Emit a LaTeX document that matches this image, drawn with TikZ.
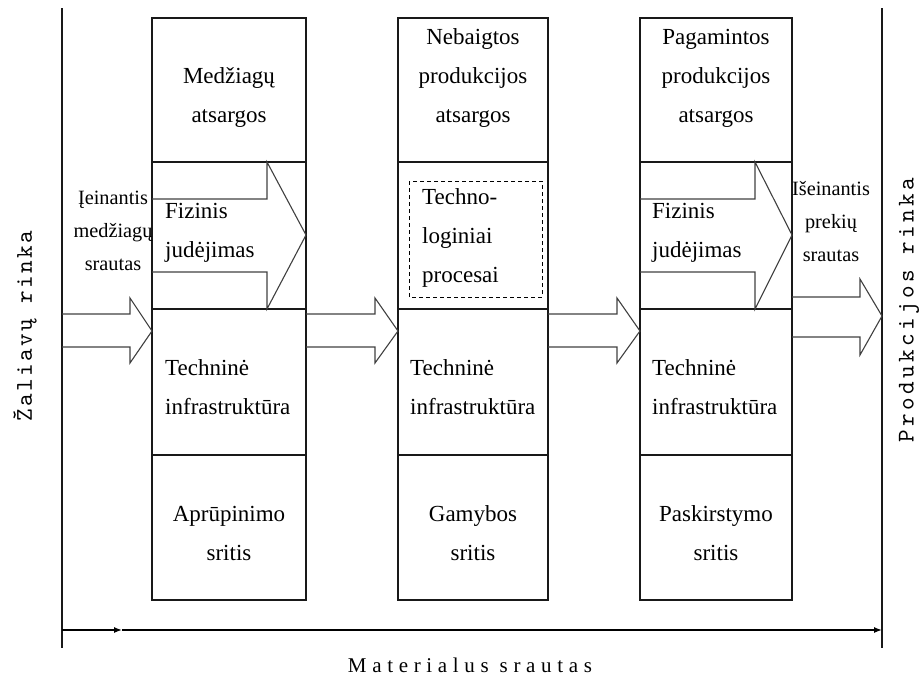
\documentclass[tikz,border=0pt]{standalone}
\usepackage{fontspec}
\setmainfont{Liberation Serif}
\newfontfamily\marketfont{lmmono10-regular}[Extension=.otf]
\usetikzlibrary{arrows.meta}
\begin{document}
\begin{tikzpicture}[x=1pt,y=-1pt,
  frame/.style={line width=1.5pt,black!90},
  blockarrow/.style={line width=1.1pt,black!75,line join=miter},
  lbl/.style={font=\fontsize{23}{39}\selectfont,align=center,inner sep=0pt},
  lbll/.style={font=\fontsize{23}{39}\selectfont,align=left,inner sep=0pt,anchor=west},
  small/.style={font=\fontsize{20.3}{33}\selectfont,align=center,inner sep=0pt},
  market/.style={inner sep=0pt,rotate=90},
  spaced/.style={font=\fontsize{21}{21}\selectfont\addfontfeatures{LetterSpace=27},inner sep=0pt}]
\useasboundingbox (0,0) rectangle (921,678);

% market boundaries
\coordinate (lt) at (62,8);   \coordinate (lb) at (62,648);
\coordinate (rt) at (882,8);  \coordinate (rb) at (882,648);
\draw[frame] (lt) -- (lb);
\draw[frame] (rt) -- (rb);

% the three areas, each split into four rows
\foreach \xl/\xr in {152/306, 398/548, 640/792} {
  \draw[frame] (\xl,18) rectangle (\xr,600);
  \draw[frame] (\xl,162) -- (\xr,162);
  \draw[frame] (\xl,309) -- (\xr,309);
  \draw[frame] (\xl,455) -- (\xr,455);
}

% physical movement arrows inside the supply and distribution areas
\draw[blockarrow] (152,199) -- (267,199) -- (267,162) -- (306,235) -- (267,309) -- (267,272) -- (152,272);
\draw[blockarrow] (640,199) -- (755,199) -- (755,162) -- (792,235) -- (755,309) -- (755,272) -- (640,272);

% flow arrows between the areas
\draw[blockarrow] (62,314) -- (130,314) -- (130,298) -- (152,331) -- (130,363) -- (130,347) -- (62,347);
\draw[blockarrow] (306,314) -- (375,314) -- (375,298) -- (398,331) -- (375,363) -- (375,347) -- (306,347);
\draw[blockarrow] (548,314) -- (617,314) -- (617,298) -- (640,331) -- (617,363) -- (617,347) -- (548,347);
\draw[blockarrow] (792,297) -- (860,297) -- (860,279) -- (882,316) -- (860,355) -- (860,337) -- (792,337);

% technological processes
\draw[line width=1pt,dashed,dash pattern=on 4pt off 3pt] (409,181) rectangle (542,297);

% row 1
\node[lbl] (s1) at (229,97) {Medžiagų\\atsargos};
\node[lbl] (s2) at (473,78) {Nebaigtos\\produkcijos\\atsargos};
\node[lbl] (s3) at (716,78) {Pagamintos\\produkcijos\\atsargos};
% row 2
\node[lbll] (f1) at (165,233) {Fizinis\\judėjimas};
\node[lbll] (tp) at (422,238) {Techno-\\loginiai\\procesai};
\node[lbll] (f3) at (652,233) {Fizinis\\judėjimas};
% row 3
\node[lbll] (t1) at (165,387) {Techninė\\infrastruktūra};
\node[lbll] (t2) at (410,387) {Techninė\\infrastruktūra};
\node[lbll] (t3) at (652,387) {Techninė\\infrastruktūra};
% row 4
\node[lbl] (a1) at (229,533) {Aprūpinimo\\sritis};
\node[lbl] (a2) at (473,533) {Gamybos\\sritis};
\node[lbl] (a3) at (716,533) {Paskirstymo\\sritis};

% incoming and outgoing flows
\node[small] (in) at (113,231) {Įeinantis\\medžiagų\\srautas};
\node[small] (out) at (831,222) {Išeinantis\\prekių\\srautas};

% markets
\node[market,font=\fontsize{24}{24}\marketfont\addfontfeatures{LetterSpace=10}] (zr) at (25,326) {Žaliavų rinka};
\node[market,font=\fontsize{24}{24}\marketfont\addfontfeatures{LetterSpace=14}] (pr) at (909,310) {Produkcijos rinka};

% material flow
\coordinate (mL) at (62,630);
\coordinate (mA) at (122,630);
\coordinate (mR) at (882,630);
\draw[line width=1.3pt,-{Latex[length=8pt,width=6pt]}] (mL) -- (mA);
\draw[line width=1.3pt,-{Latex[length=8pt,width=6pt]}] (mA) -- (mR);
\node[spaced] (ms) at (470,665) {Materialus srautas};
\end{tikzpicture}
\end{document}
